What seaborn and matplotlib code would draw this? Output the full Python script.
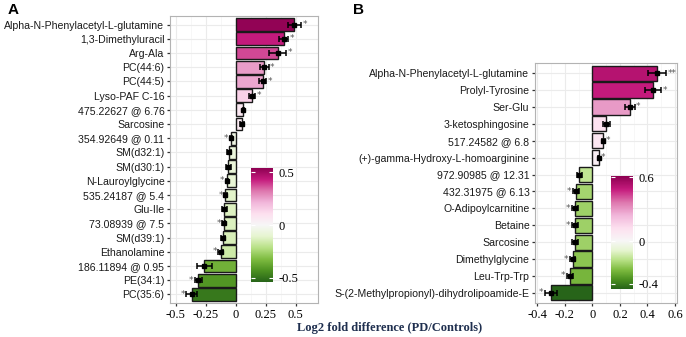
import numpy as np
import pandas as pd
import matplotlib
matplotlib.use("Agg")
import matplotlib.pyplot as plt
import seaborn as sns
from matplotlib.colors import TwoSlopeNorm

# panel A
names_a = ["Alpha-N-Phenylacetyl-L-glutamine", "1,3-Dimethyluracil", "Arg-Ala", "PC(44:6)",
           "PC(44:5)", "Lyso-PAF C-16", "475.22627 @ 6.76", "Sarcosine", "354.92649 @ 0.11",
           "SM(d32:1)", "SM(d30:1)", "N-Lauroylglycine", "535.24187 @ 5.4", "Glu-Ile",
           "73.08939 @ 7.5", "SM(d39:1)", "Ethanolamine", "186.11894 @ 0.95", "PE(34:1)", "PC(35:6)"]
fc_a = [0.49, 0.40, 0.35, 0.24, 0.225, 0.135, 0.065, 0.055, -0.04, -0.055,
        -0.06, -0.07, -0.085, -0.095, -0.10, -0.105, -0.125, -0.26, -0.31, -0.365]
err_a = [0.055, 0.035, 0.07, 0.035, 0.03, 0.025, 0.005, 0.015, 0.006, 0.02,
         0.02, 0.01, 0.01, 0.02, 0.01, 0.02, 0.02, 0.06, 0.03, 0.045]
sig_a = ["*", "*", "*", "*", "*", "*", "", "", "*", "",
         "", "*", "*", "", "*", "", "*", "", "*", "*"]

# panel B
names_b = ["Alpha-N-Phenylacetyl-L-glutamine", "Prolyl-Tyrosine", "Ser-Glu", "3-ketosphingosine",
           "517.24582 @ 6.8", "(+)-gamma-Hydroxy-L-homoarginine", "972.90985 @ 12.31",
           "432.31975 @ 6.13", "O-Adipoylcarnitine", "Betaine", "Sarcosine", "Dimethylglycine",
           "Leu-Trp-Trp", "S-(2-Methylpropionyl)-dihydrolipoamide-E"]
fc_b = [0.47, 0.44, 0.27, 0.10, 0.078, 0.044, -0.095, -0.12, -0.127, -0.127,
        -0.127, -0.144, -0.163, -0.30]
err_b = [0.064, 0.06, 0.036, 0.024, 0.01, 0.006, 0.016, 0.02, 0.025, 0.02,
         0.02, 0.02, 0.02, 0.045]
sig_b = ["**", "*", "*", "", "*", "*", "", "*", "*", "*", "", "*", "*", "*"]

cmap = plt.get_cmap("PiYG_r")
serif = "Liberation Serif"
sans = "Liberation Sans"


def panel(ax, names, fc, err, sig, norm, xlim, xticks, xlabels):
    df = pd.DataFrame({"name": names, "fc": fc})
    cols = [cmap(norm(v)) for v in fc]
    sns.barplot(data=df, y="name", x="fc", hue="name", palette=cols, legend=False,
                orient="h", width=0.9, edgecolor="#1a1a1a", linewidth=1.0,
                saturation=1, ax=ax, zorder=2)
    ax.errorbar(fc, np.arange(len(fc)), xerr=err, fmt="s", ms=2.5, color="black",
                ecolor="black", elinewidth=1.1, capsize=2, capthick=1.1, zorder=3)
    for i, (v, e, s) in enumerate(zip(fc, err, sig)):
        if s:
            if v > 0:
                ax.text(v + e + 0.012, i, s, ha="left", va="center", fontsize=6.5, color="#555555")
            else:
                ax.text(v - e - 0.012, i, s, ha="right", va="center", fontsize=6.5, color="#555555")
    ax.set_xlim(*xlim)
    ax.set_ylim(len(names) - 0.4, -0.6)
    ax.set_xticks(xticks)
    ax.set_xticklabels(xlabels, fontfamily=serif, fontsize=9)
    minor = [(a + b) / 2 for a, b in zip(xticks[:-1], xticks[1:])]
    ax.set_xticks(minor, minor=True)
    ax.set_axisbelow(True)
    ax.grid(which="major", color="#ebebeb", lw=0.8)
    ax.grid(which="minor", axis="x", color="#f4f4f4", lw=0.5)
    ax.tick_params(which="minor", length=0)
    ax.tick_params(which="major", length=2.5, width=0.9, color="#333333", pad=1.5)
    for lab in ax.get_yticklabels():
        lab.set_fontfamily(sans)
        lab.set_fontsize(7.6)
        lab.set_color("#1a1a1a")
    for sp in ax.spines.values():
        sp.set_color("#b3b3b3")
        sp.set_linewidth(0.8)
    ax.set_xlabel("")
    ax.set_ylabel("")


def colorbar(fig, rect, lo, hi, ticks, labels):
    cax = fig.add_axes(rect)
    grad = np.linspace(lo, hi, 256)[:, None]
    cax.imshow(grad, cmap=cmap, norm=TwoSlopeNorm(vmin=lo, vcenter=0, vmax=hi),
               aspect="auto", origin="lower", extent=[0, 1, lo, hi])
    cax.set_xticks([])
    cax.set_yticks(ticks)
    cax.set_yticklabels(labels, fontfamily=serif, fontsize=9)
    cax.yaxis.tick_right()
    cax.tick_params(axis="y", direction="in", length=3, color="white", width=0.8,
                    left=True, right=True, labelleft=False, labelright=True, pad=4)
    for sp in cax.spines.values():
        sp.set_visible(False)


fig = plt.figure(figsize=(6.86, 3.37), dpi=100)
W, H = 686, 337

ax_a = fig.add_axes([170 / W, 1 - 303 / H, 148 / W, 287 / H])
norm_a = TwoSlopeNorm(vmin=-0.4, vcenter=0, vmax=0.5)
panel(ax_a, names_a, fc_a, err_a, sig_a, norm_a, (-0.547, 0.686),
      [-0.5, -0.25, 0, 0.25, 0.5], ["-0.5", "-0.25", "0", "0.25", "0.5"])
colorbar(fig, [251 / W, 1 - 282 / H, 22 / W, 114 / H], -0.54, 0.54,
         [-0.5, 0, 0.5], ["-0.5", "0", "0.5"])

ax_b = fig.add_axes([535 / W, 1 - 303 / H, 142 / W, 240 / H])
norm_b = TwoSlopeNorm(vmin=-0.26, vcenter=0, vmax=0.55)
panel(ax_b, names_b, fc_b, err_b, sig_b, norm_b, (-0.418, 0.615),
      [-0.4, -0.2, 0, 0.2, 0.4, 0.6], ["-0.4", "-0.2", "0", "0.2", "0.4", "0.6"])
colorbar(fig, [611 / W, 1 - 289 / H, 22 / W, 113 / H], -0.45, 0.61,
         [-0.4, 0, 0.6], ["-0.4", "0", "0.6"])

fig.text(0.5685, 1 - 328 / H, "Log2 fold difference (PD/Controls)", ha="center", va="center",
         fontfamily=serif, fontweight="bold", fontsize=9, color="#1f2f4f")
fig.text(8 / W, 1 - 10 / H, "A", ha="left", va="center", fontfamily=sans,
         fontweight="bold", fontsize=11)
fig.text(353 / W, 1 - 10 / H, "B", ha="left", va="center", fontfamily=sans,
         fontweight="bold", fontsize=11)

fig.savefig("out.png", dpi=100)
